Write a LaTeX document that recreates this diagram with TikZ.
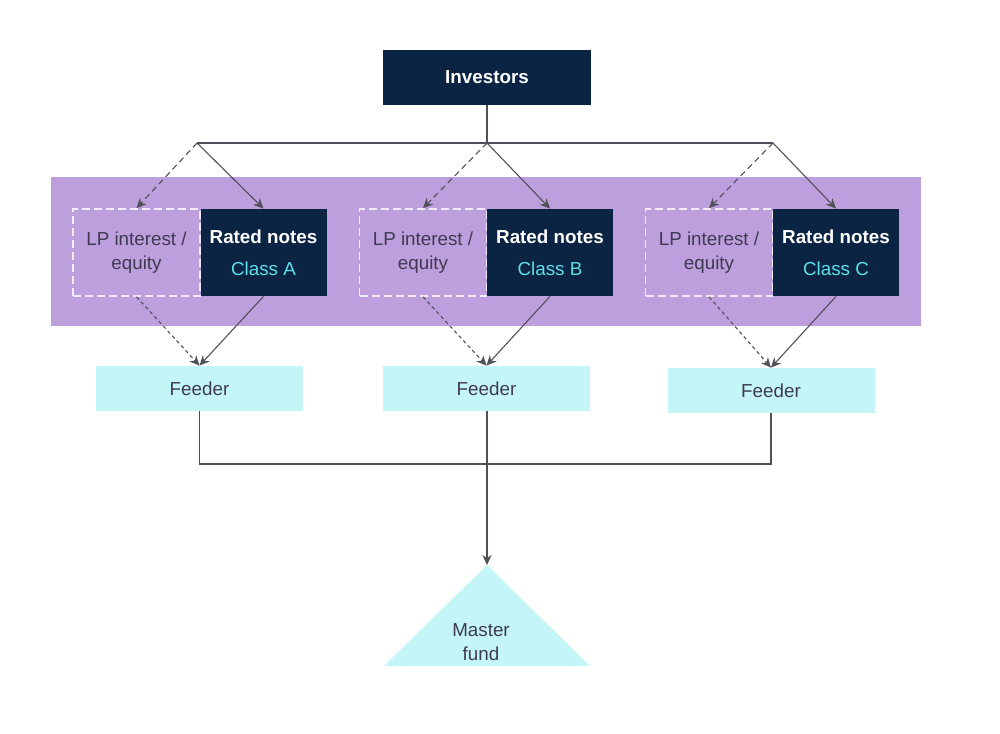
\documentclass[tikz,border=0pt]{standalone}
\usepackage{fontspec}
\setmainfont{Liberation Sans}
\usepackage{xcolor}
\usetikzlibrary{arrows.meta}
\definecolor{navy}{HTML}{0C2443}
\definecolor{band}{HTML}{BC9FDC}
\definecolor{feed}{HTML}{C4F5F7}
\definecolor{clstxt}{HTML}{5EDFE8}
\definecolor{lptxt}{HTML}{3F3A52}
\definecolor{wire}{HTML}{50505A}
\definecolor{dashw}{HTML}{F2ECF8}

\begin{document}
\begin{tikzpicture}[x=0.5pt,y=-0.5pt]
\tikzstyle{every node}+=[font=\fontsize{9.4}{11.5}\selectfont,inner sep=0pt,align=center]
\tikzstyle{navybox}=[fill=navy,text=white,minimum width=63pt,minimum height=43.5pt]
\tikzstyle{lpbox}=[draw=dashw,line width=0.8pt,dash pattern=on 4pt off 2pt,text=lptxt,minimum width=63.5pt,minimum height=43.5pt]
\tikzstyle{feeder}=[fill=feed,text=lptxt,minimum width=103.5pt,minimum height=22.5pt]
\tikzstyle{wire}=[draw=wire,line width=0.55pt]
\tikzstyle{arr}=[wire,-{Stealth[length=5pt,width=4.6pt]}]
\tikzstyle{darr}=[arr,dash pattern=on 3pt off 2pt]
\tikzstyle{farr}=[arr,dash pattern=on 1.8pt off 1.5pt]
\useasboundingbox (0,0) rectangle (1000,733);
\fill[white] (0,0) rectangle (1000,733);
\fill[band] (51,177) rectangle (921,326);
\node[navybox,minimum width=104pt,minimum height=27.5pt] (inv) at (487,77.5) {\bfseries Investors};
\node[lpbox] (lpA) at (136.5,252.5) {\raisebox{-1.5pt}{LP interest /}\\[0.6pt]\raisebox{-1.5pt}{equity}};
\node[navybox] (rnA) at (263.5,252.5) {\bfseries Rated notes\\[4.5pt]\color{clstxt}Class A};
\node[lpbox] (lpB) at (423,252.5) {\raisebox{-1.5pt}{LP interest /}\\[0.6pt]\raisebox{-1.5pt}{equity}};
\node[navybox] (rnB) at (550,252.5) {\bfseries Rated notes\\[4.5pt]\color{clstxt}Class B};
\node[lpbox] (lpC) at (709,252.5) {\raisebox{-1.5pt}{LP interest /}\\[0.6pt]\raisebox{-1.5pt}{equity}};
\node[navybox] (rnC) at (836,252.5) {\bfseries Rated notes\\[4.5pt]\color{clstxt}Class C};
\node[feeder] (fdA) at (199.5,388.5) {Feeder};
\node[feeder] (fdB) at (486.5,388.5) {Feeder};
\node[feeder] (fdC) at (771,390.5) {Feeder};
\coordinate (splitA) at (197,143);
\coordinate (splitB) at (487,143);
\coordinate (splitC) at (773,143);
\coordinate (join) at (487,464);
\coordinate (apex) at (487,565);
\fill[feed] (apex) -- (590,666) -- (384,666) -- cycle;
\node[text=lptxt] (master) at (481,642) {Master\\[0.6pt]fund};
\draw[wire] (inv.south) -- (splitB);
\draw[wire] (splitA) -- (splitC);
\draw[darr] (splitA) -- (lpA.north);
\draw[arr] (splitA) -- (rnA.north);
\draw[darr] (splitB) -- (lpB.north);
\draw[arr] (splitB) -- (rnB.north);
\draw[darr] (splitC) -- (lpC.north);
\draw[arr] (splitC) -- (rnC.north);
\draw[farr] (lpA.south) -- (fdA.north);
\draw[arr] (rnA.south) -- (fdA.north);
\draw[farr] (lpB.south) -- (fdB.north);
\draw[arr] (rnB.south) -- (fdB.north);
\draw[farr] (lpC.south) -- (fdC.north);
\draw[arr] (rnC.south) -- (fdC.north);
\draw[wire] (fdA.south) |- (join) -| (fdC.south);
\draw[arr] (fdB.south -| join) -- (apex);
\end{tikzpicture}
\end{document}
